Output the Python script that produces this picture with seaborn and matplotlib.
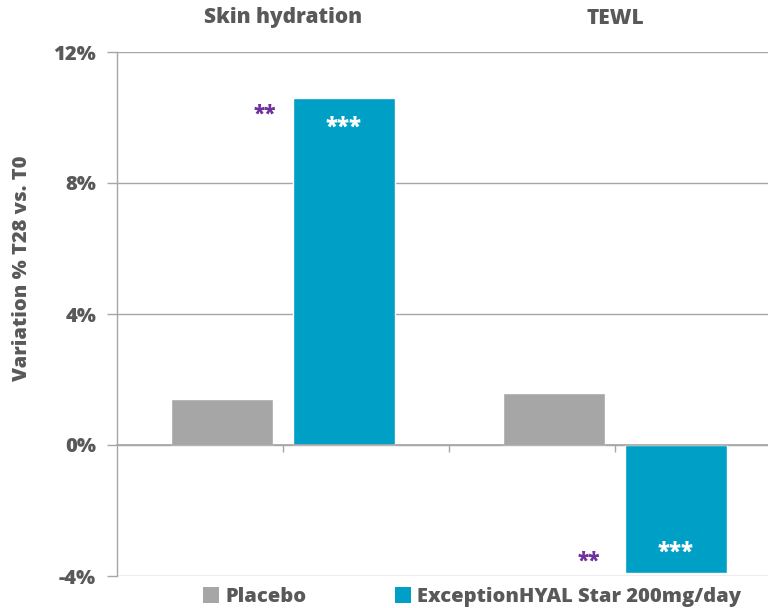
import matplotlib
matplotlib.use("Agg")
import matplotlib.pyplot as plt
import matplotlib.transforms as mtransforms
from matplotlib.patches import Patch
import seaborn as sns
import pandas as pd

categories = ["Skin hydration", "TEWL"]
groups = ["Placebo", "ExceptionHYAL Star 200mg/day"]
placebo_values = [1.40, 1.59]
exception_values = [10.6, -3.9]
yticks = [-4, 0, 4, 8, 12]
ytick_labels = ["-4%", "0%", "4%", "8%", "12%"]
purple_marks = ["**", "**"]
white_marks = ["***", "***"]

df = pd.DataFrame({
    "category": categories * 2,
    "group": [groups[0]] * 2 + [groups[1]] * 2,
    "value": placebo_values + exception_values,
})

sns.set_theme(style="white")
plt.rcParams["font.family"] = ["Open Sans", "DejaVu Sans"]
W = 800
plt.rcParams["font.weight"] = W

TXT = "#595959"
GRID = "#A6A6A6"
colors = {"Placebo": "#A6A6A6", "ExceptionHYAL Star 200mg/day": "#009FC6"}

fig = plt.figure(figsize=(7.68, 6.08), dpi=100)
ax = fig.add_axes([117 / 768, 1 - 576 / 608, (781 - 117) / 768, (576 - 52) / 608])

sns.barplot(data=df, x="category", y="value", hue="group", order=categories,
            hue_order=groups, palette=colors, errorbar=None, width=0.735,
            gap=0.17, saturation=1, ax=ax, legend=False)

ax.set_xlim(-0.5, 1.5)
ax.set_ylim(-4, 12)
ax.set_yticks(yticks)
ax.set_yticklabels(ytick_labels, fontsize=14.5, fontweight=W, color=TXT)
ax.set_xlabel("")
ax.set_ylabel("")
ax.set_xticks([0, 0.5, 1])
ax.set_xticklabels([])
ax.tick_params(axis="x", direction="out", length=5, width=1, color=GRID, bottom=True)
ax.tick_params(axis="y", direction="out", length=7, width=1, color=GRID, left=True, pad=8)

for s in ["top", "right"]:
    ax.spines[s].set_visible(False)
ax.spines["left"].set_color(GRID)
ax.spines["left"].set_linewidth(1)
ax.spines["bottom"].set_position(("data", 0))
ax.spines["bottom"].set_color(GRID)
ax.spines["bottom"].set_linewidth(1.2)
ax.yaxis.grid(True, color=GRID, linewidth=1)
ax.set_axisbelow(True)

# category titles at top
trans = mtransforms.blended_transform_factory(ax.transData, fig.transFigure)
for i, c in enumerate(categories):
    ax.text(i, 1 - 18 / 608, c, transform=trans, ha="center", va="center",
            fontsize=15, fontweight=W, color=TXT)

# significance marks
ax.text(-0.055, exception_values[0] - 0.5, purple_marks[0], ha="center", va="center",
        fontsize=15, fontweight=W, color="#7030A0")
ax.text(0.182, exception_values[0] - 0.9, white_marks[0], ha="center", va="center",
        fontsize=16, fontweight=W, color="white")
ax.text(0.92, exception_values[1] + 0.35, purple_marks[1], ha="center", va="center",
        fontsize=15, fontweight=W, color="#7030A0")
ax.text(1.182, exception_values[1] + 0.6, white_marks[1], ha="center", va="center",
        fontsize=16, fontweight=W, color="white")

fig.text(22 / 768, 1 - 268 / 608, "Variation % T28 vs. T0", rotation=90,
         ha="center", va="center", fontsize=14.5, fontweight=W, color=TXT)

handles = [Patch(facecolor=colors[g], edgecolor="none") for g in groups]
fig.legend(handles, groups, loc="center", bbox_to_anchor=(472 / 768, 1 - 597 / 608),
           ncol=2, frameon=False, handlelength=0.8, handleheight=0.8,
           handletextpad=0.3, columnspacing=4.4,
           prop={"size": 14.5, "weight": W}, labelcolor=TXT)

fig.savefig("out.png", dpi=100)
